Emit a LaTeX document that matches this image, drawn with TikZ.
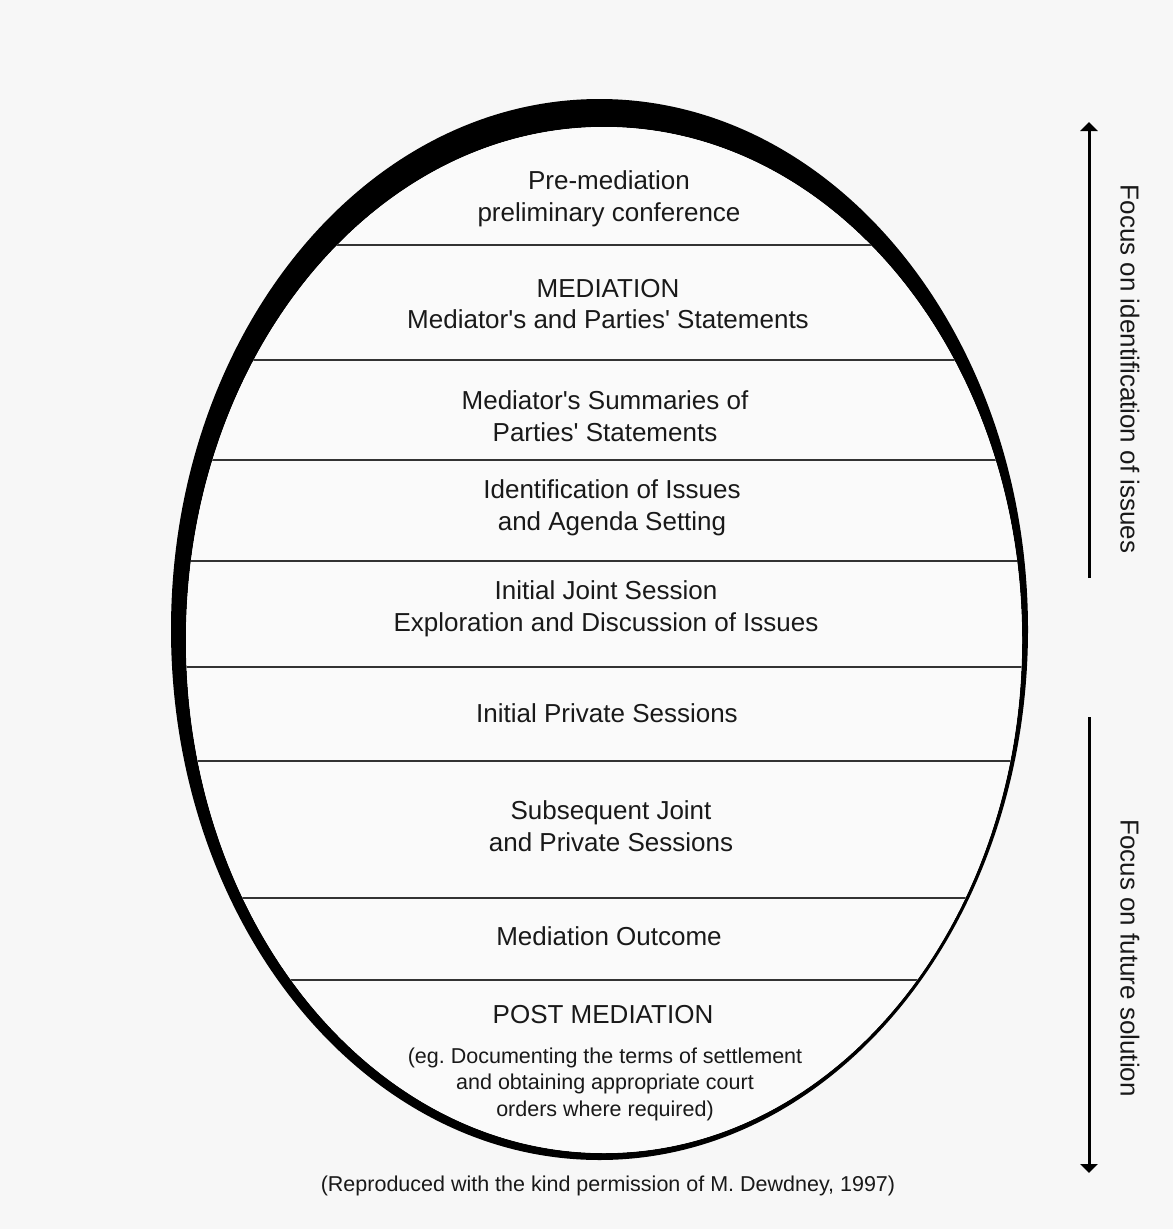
\documentclass[tikz,border=0pt]{standalone}
\usepackage{fontspec}
\setmainfont{Liberation Sans}
\usetikzlibrary{arrows.meta}
\newcommand{\apos}{\textquotesingle}
\frenchspacing
\begin{document}
\begin{tikzpicture}[x=1pt,y=-1pt,
  lbl/.style={align=center, font=\fontsize{26}{31.5}\selectfont, inner sep=0pt, text=black!90},
  small/.style={align=center, font=\fontsize{21.5}{26.5}\selectfont, inner sep=0pt, text=black!90},
  sepline/.style={line width=2pt, black!80},
  focusarrow/.style={line width=3pt, -{Triangle[length=9pt,width=17pt]}},
  focuslbl/.style={font=\fontsize{26}{31}\selectfont, inner sep=0pt, rotate=-90, text=black!90}]
\useasboundingbox[fill=black!3] (0,0) rectangle (1173,1229);
% ring
\fill[black, even odd rule] (599.5,629.5) ellipse [x radius=428.5pt, y radius=530.5pt]
  (604,640) ellipse [x radius=418pt, y radius=513pt];
\fill[white!98!black] (604,640) ellipse [x radius=418pt, y radius=513pt];
% separators
\begin{scope}
  \clip (604,640) ellipse [x radius=418pt, y radius=513pt];
  \foreach \yy in {245,360,460,561,667,761,898,980}
    \draw[sepline] (150,\yy) -- (1050,\yy);
\end{scope}
% stages
\node[lbl] (s1) at (609,199) {Pre-mediation\\preliminary conference};
\node[lbl] (s2) at (608,304) {MEDIATION\\Mediator\apos s and Parties\apos{} Statements};
\node[lbl] (s3) at (605,416) {Mediator\apos s Summaries of\\Parties\apos{} Statements};
\node[lbl] (s4) at (612,508) {Identification of Issues\\and Agenda Setting};
\node[lbl] (s5) at (606,609) {Initial Joint Session\\Exploration and Discussion of Issues};
\node[lbl] (s6) at (607,713) {Initial Private Sessions};
\node[lbl] (s7) at (611,826) {Subsequent Joint\\and Private Sessions};
\node[lbl] (s8) at (609,936) {Mediation Outcome};
\node[lbl] (s9) at (603,1015) {POST MEDIATION};
\node[small] (s9b) at (605,1084) {(eg. Documenting the terms of settlement\\and obtaining appropriate court\\orders where required)};
\node[small] (credit) at (608,1186) {(Reproduced with the kind permission of M. Dewdney, 1997)};
% focus arrows
\coordinate (a1s) at (1089,578);
\coordinate (a1e) at (1089,122);
\coordinate (a2s) at (1089,717);
\coordinate (a2e) at (1089,1173);
\draw[focusarrow] (a1s) -- (a1e);
\draw[focusarrow] (a2s) -- (a2e);
\node[focuslbl] (f1) at (1130,369) {Focus on identification of issues};
\node[focuslbl] (f2) at (1130,958) {Focus on future solution};
\end{tikzpicture}
\end{document}
